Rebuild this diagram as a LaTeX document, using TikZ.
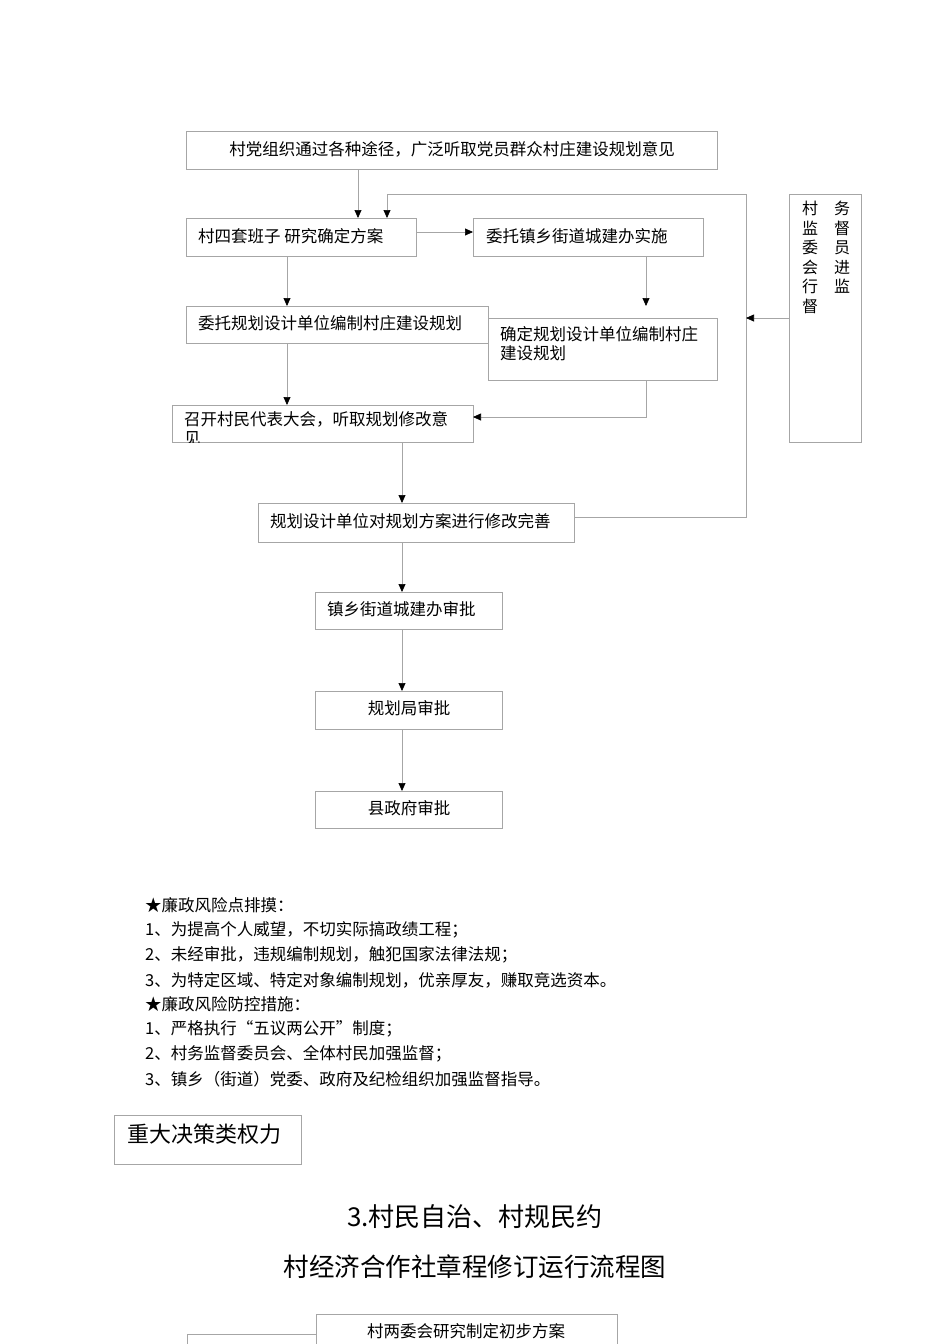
\documentclass[tikz,border=0pt]{standalone}
\usepackage{fontspec}
\setmainfont{Noto Sans CJK SC}
\usetikzlibrary{arrows.meta}
\begin{document}
\begin{tikzpicture}[x=1pt,y=-1pt,
  bx/.style={draw=black!35,line width=0.7pt},
  ln/.style={draw=black!35,line width=0.7pt},
  ar/.style={ln,-{Triangle[black,length=8pt,width=7pt]}},
  tx/.style={font=\fontsize{16.5}{19}\selectfont,anchor=west,inner sep=0pt},
  lt/.style={font=\fontsize{16.5}{19}\selectfont,anchor=west,inner sep=0pt}]
\useasboundingbox (0,0) rectangle (950,1344);
\clip (0,0) rectangle (950,1344);
% boxes
\draw[bx] (186,131) rectangle (717,169); \node[tx,anchor=center] (t0) at (452,149) {村党组织通过各种途径，广泛听取党员群众村庄建设规划意见};
\draw[bx] (186,218) rectangle (416,256); \node[tx] (b1) at (198,236) {村四套班子\ 研究确定方案};
\draw[bx] (473,218) rectangle (703,256); \node[tx] (b2) at (486,236) {委托镇乡街道城建办实施};
\draw[bx] (186,306) rectangle (488,343); \node[tx] (b3) at (198,323) {委托规划设计单位编制村庄建设规划};
\draw[bx] (488,318) rectangle (717,380); \node[tx,align=left] (b4) at (500,344) {确定规划设计单位编制村庄\\建设规划};
\draw[bx] (172,405) rectangle (473,442);
\begin{scope}\clip (172,405) rectangle (473,442);
\node[tx,align=left,anchor=north west] (b5) at (184,411) {召开村民代表大会，听取规划修改意\\见};
\end{scope}
\draw[bx] (258,503) rectangle (574,542); \node[tx] (b6) at (270,521) {规划设计单位对规划方案进行修改完善};
\draw[bx] (315,592) rectangle (502,629); \node[tx] (b7) at (327,609) {镇乡街道城建办审批};
\draw[bx] (315,691) rectangle (502,729); \node[tx,anchor=center] (b8) at (409,708) {规划局审批};
\draw[bx] (315,791) rectangle (502,828); \node[tx,anchor=center] (b9) at (409,808) {县政府审批};
\draw[bx] (789,194) rectangle (861,442);
\node[tx,anchor=north,align=center,font=\fontsize{16}{19.5}\selectfont] (s1) at (810,201) {村\\监\\委\\会\\行\\督};
\node[tx,anchor=north,align=center,font=\fontsize{16}{19.5}\selectfont] (s2) at (842,201) {务\\督\\员\\进\\监};
% connectors
\draw[ar] (358,169) -- (358,218);
\draw[ar] (416,232) -- (473,232);
\draw[ar] (287,256) -- (287,306);
\draw[ar] (646,256) -- (646,306);
\draw[ar] (287,343) -- (287,405);
\draw[ar] (646,380) -- (646,417) -- (473,417);
\draw[ar] (402,442) -- (402,503);
\draw[ar] (402,542) -- (402,592);
\draw[ar] (402,629) -- (402,691);
\draw[ar] (402,729) -- (402,791);
\draw[ar] (574,517) -- (746,517) -- (746,194) -- (387,194) -- (387,218);
\draw[ar] (789,318) -- (746,318);
% text list
\node[lt] (l1) at (145,905) {★廉政风险点排摸：};
\node[lt] (l2) at (145,930) {1、为提高个人威望，不切实际搞政绩工程；};
\node[lt] (l3) at (145,955) {2、未经审批，违规编制规划，触犯国家法律法规；};
\node[lt] (l4) at (145,980) {3、为特定区域、特定对象编制规划，优亲厚友，赚取竞选资本。};
\node[lt] (l5) at (145,1004) {★廉政风险防控措施：};
\node[lt] (l6) at (145,1029) {1、严格执行“五议两公开”制度；};
\node[lt] (l7) at (145,1054) {2、村务监督委员会、全体村民加强监督；};
\node[lt] (l8) at (145,1079) {3、镇乡（街道）党委、政府及纪检组织加强监督指导。};
\draw[bx] (114,1115) rectangle (301,1164);
\node[inner sep=0pt,anchor=west,font=\fontsize{22}{26}\selectfont] (h) at (127,1134) {重大决策类权力};
\node[inner sep=0pt,font=\fontsize{26}{30}\selectfont] (t1) at (475,1217) {3.村民自治、村规民约};
\node[inner sep=0pt,font=\fontsize{25.5}{30}\selectfont] (t2) at (475,1267) {村经济合作社章程修订运行流程图};
\draw[bx] (187,1360) -- (187,1334) -- (316,1334);
\draw[bx] (316,1360) -- (316,1314) -- (617,1314) -- (617,1360);
\node[tx,anchor=center] (c1) at (466,1331) {村两委会研究制定初步方案};
\end{tikzpicture}
\end{document}
